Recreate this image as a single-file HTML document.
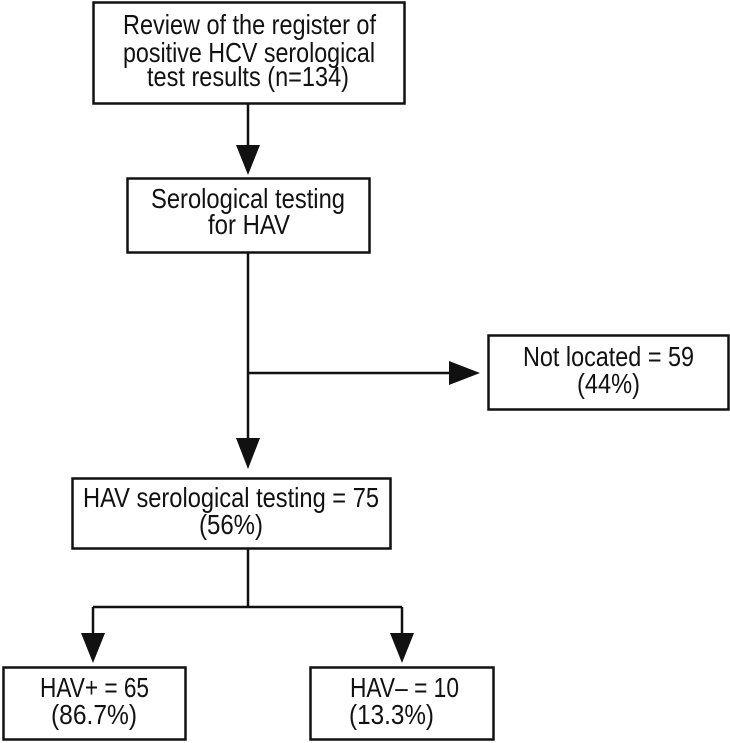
<!DOCTYPE html>
<html><head><meta charset="utf-8"><style>
html,body{margin:0;padding:0;background:#fff;}
svg{display:block;}
text{font-family:"Liberation Sans Narrow","Liberation Sans",sans-serif;font-size:28px;fill:#111;}
</style></head><body>
<svg width="730" height="743" viewBox="0 0 730 743" xmlns="http://www.w3.org/2000/svg">
<g fill="none" stroke="#111" stroke-width="2.5">
<rect x="93.5" y="2.5" width="311" height="101"/>
<rect x="127.5" y="178.5" width="242" height="74"/>
<rect x="488.5" y="335.5" width="240" height="74"/>
<rect x="72.5" y="478.5" width="318" height="70"/>
<rect x="3.5" y="667.5" width="182" height="72"/>
<rect x="310.5" y="667.5" width="183" height="72"/>
<line x1="248" y1="103" x2="248" y2="150"/>
<line x1="248" y1="252" x2="248" y2="445"/>
<line x1="248" y1="373" x2="455" y2="373"/>
<line x1="248" y1="549" x2="248" y2="607"/>
<line x1="93" y1="607" x2="402" y2="607"/>
<line x1="93" y1="607" x2="93" y2="640"/>
<line x1="402" y1="607" x2="402" y2="640"/>
</g>
<g fill="#111">
<polygon points="236,145 260,145 248,175"/>
<polygon points="236,438 260,438 248,469"/>
<polygon points="449,361 449,385 480,373"/>
<polygon points="81,633 105,633 93,663"/>
<polygon points="390,633 414,633 402,663"/>
</g>
<text x="123" y="34" textLength="253" lengthAdjust="spacingAndGlyphs">Review of the register of</text>
<text x="123" y="62" textLength="252" lengthAdjust="spacingAndGlyphs">positive HCV serological</text>
<text x="147" y="86" textLength="202" lengthAdjust="spacingAndGlyphs">test results (n=134)</text>
<text x="151" y="208" textLength="194" lengthAdjust="spacingAndGlyphs">Serological testing</text>
<text x="208" y="234" textLength="82" lengthAdjust="spacingAndGlyphs">for HAV</text>
<text x="523" y="366" textLength="171" lengthAdjust="spacingAndGlyphs">Not located = 59</text>
<text x="577" y="393" textLength="63" lengthAdjust="spacingAndGlyphs">(44%)</text>
<text x="83" y="507" textLength="296" lengthAdjust="spacingAndGlyphs">HAV serological testing = 75</text>
<text x="199" y="534" textLength="64" lengthAdjust="spacingAndGlyphs">(56%)</text>
<text x="40" y="697" textLength="109" lengthAdjust="spacingAndGlyphs">HAV+ = 65</text>
<text x="51" y="724" textLength="86" lengthAdjust="spacingAndGlyphs">(86.7%)</text>
<text x="350" y="697" textLength="109" lengthAdjust="spacingAndGlyphs">HAV– = 10</text>
<text x="349" y="724" textLength="85" lengthAdjust="spacingAndGlyphs">(13.3%)</text>
</svg>
</body></html>
